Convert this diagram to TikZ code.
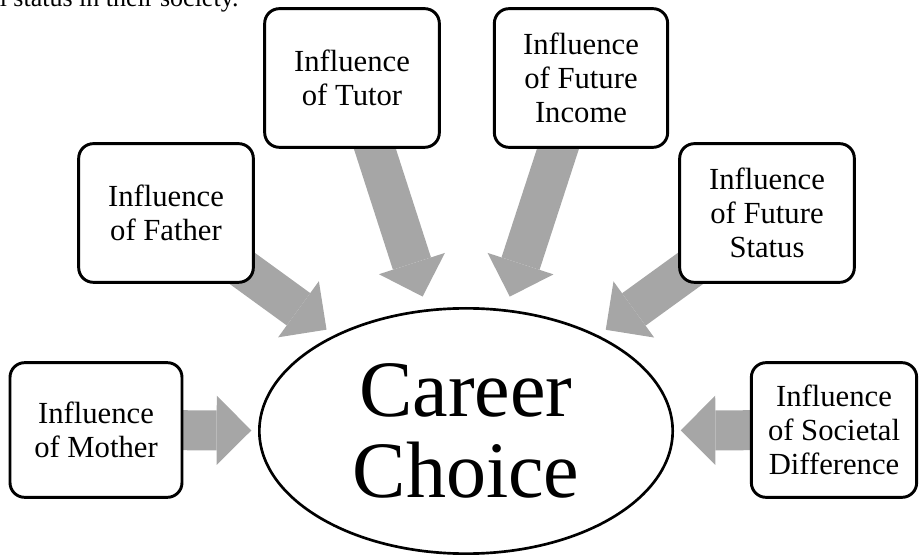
\documentclass[tikz,border=0pt]{standalone}
\usepackage{fontspec}
\setmainfont{Liberation Serif}
\usepackage{tikz}
\usetikzlibrary{arrows.meta,shapes.geometric,backgrounds}

\begin{document}
\begin{tikzpicture}[x=0.75pt,y=-0.75pt,line join=round,
  factor/.style={draw,line width=2.2pt,rounded corners=11pt,fill=white,
    align=center,minimum width=131pt,minimum height=104pt,inner sep=2pt,
    font=\fontsize{23}{25.5}\selectfont},
  choice/.style={ellipse,draw,line width=2pt,fill=white,align=center,
    minimum width=310pt,minimum height=184pt,inner sep=0pt,
    font=\fontsize{60}{61}\selectfont},
  push/.style={draw=gray!70,line width=30pt,
    -{Triangle[length=26pt,width=52pt,line width=0pt]},shorten >=7pt}]
  \useasboundingbox (0,0) rectangle (919,555);
  \clip (0,0) rectangle (919,555);
  % tail of the sentence above the figure
  \node[anchor=base west,inner sep=0pt,font=\fontsize{19.5}{22}\selectfont]
    (lead) at (-0.5,7) {l status in their society.};
  % the six influences
  \node[factor,minimum width=129pt,minimum height=101pt] (mother) at (96,430) {Influence\\of Mother};
  \node[factor] (father) at (166,213) {Influence\\of Father};
  \node[factor] (tutor) at (352,78) {Influence\\of Tutor};
  \node[factor,minimum width=130pt] (income) at (581,78) {Influence\\of Future\\Income};
  \node[factor] (status) at (767,213) {Influence\\of Future\\Status};
  \node[factor,minimum width=124pt,minimum height=101pt] (societal) at (834,430) {Influence\\of Societal\\Difference};
  \node[choice] (career) at (466,431) {Career\\Choice};
  % grey block arrows, behind the boxes
  \begin{scope}[on background layer]
    \draw[push,shorten >=5pt] (mother.center) -- (career);
    \draw[push] (father.center) -- (career);
    \draw[push,shorten >=10pt] (tutor.center) -- (career);
    \draw[push,shorten >=10pt] (income.center) -- (career);
    \draw[push] (status.center) -- (career);
    \draw[push,shorten >=5pt] (societal.center) -- (career);
  \end{scope}
\end{tikzpicture}
\end{document}
